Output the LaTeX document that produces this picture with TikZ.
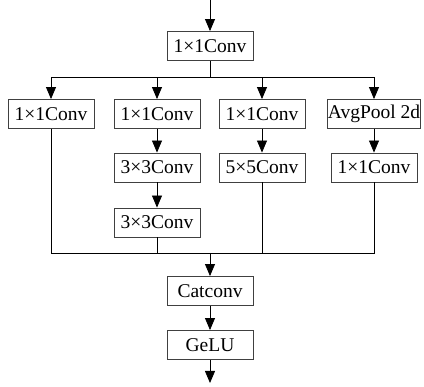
\documentclass[tikz,border=0pt]{standalone}
\usepackage{fontspec}
\setmainfont{Liberation Serif}
\usetikzlibrary{arrows.meta}
\begin{document}
\begin{tikzpicture}[x=1pt,y=-1pt,
  box/.style={draw=black!75,line width=0.9pt,minimum width=86pt,minimum height=29pt,inner sep=0pt,
    font=\fontsize{19.5}{21}\selectfont},
  arr/.style={-{Triangle[width=10pt,length=12pt]}},
  ln/.style={line width=0.8pt,black}]
\useasboundingbox (0,0) rectangle (424,387);
\coordinate (in) at (210,0);
\node[box] (top) at (210,46) {1×1Conv};
\coordinate (split) at (210,77);
\node[box] (b1) at (51,114) {1×1Conv};
\node[box] (b2) at (157,114) {1×1Conv};
\node[box] (b3) at (262,114) {1×1Conv};
\node[box,minimum width=93pt] (b4) at (374,114) {AvgPool 2d};
\node[box] (c2) at (157,167.5) {3×3Conv};
\node[box] (c3) at (262,167.5) {5×5Conv};
\node[box] (c4) at (374,167.5) {1×1Conv};
\node[box] (d2) at (157,222.5) {3×3Conv};
\coordinate (m) at (210,253);
\node[box] (cat) at (210,291) {Catconv};
\node[box] (gelu) at (210,345) {GeLU};
\coordinate (out) at (210,383);
\begin{scope}[ln]
\draw[arr] (in) -- (top);
\draw (top) -- (split);
\draw[arr] (split) -| (b1);
\draw[arr] (split) -| (b2);
\draw[arr] (split) -| (b3);
\draw[arr] (split) -| (b4);
\draw[arr] (b2) -- (c2);
\draw[arr] (b3) -- (c3);
\draw[arr] (b4) -- (c4);
\draw[arr] (c2) -- (d2);
\draw (b1.south) |- (m);
\draw (c4.south) |- (m);
\draw (d2.south) -- (d2.south |- m);
\draw (c3.south) -- (c3.south |- m);
\draw[arr] (m) -- (cat);
\draw[arr] (cat) -- (gelu);
\draw[arr] (gelu) -- (out);
\end{scope}
\end{tikzpicture}
\end{document}
